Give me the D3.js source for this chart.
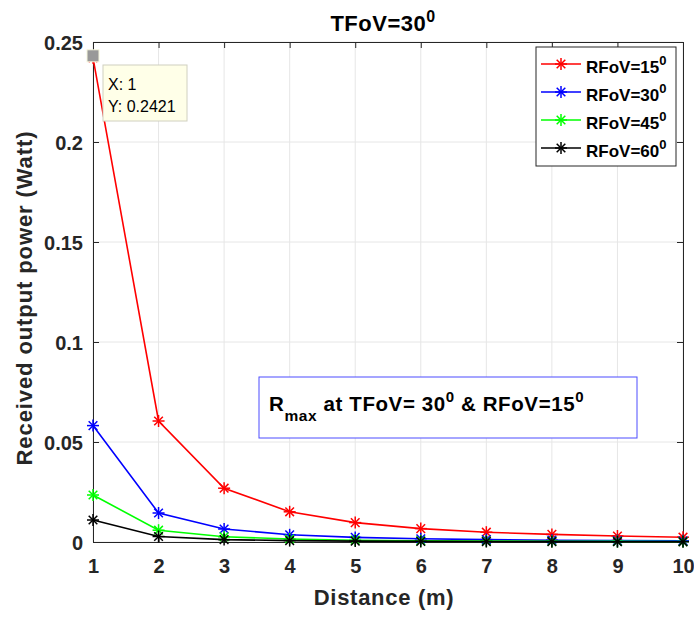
<!DOCTYPE html>
<html><head><meta charset="utf-8">
<script src="https://cdn.jsdelivr.net/npm/d3@7"></script>
<style>body{margin:0;background:#fff}svg{display:block;font-family:"Liberation Sans",Arial,sans-serif}</style>
</head><body>
<script>
const distances = [1,2,3,4,5,6,7,8,9,10];
const rfov15 = [0.2421,0.0605,0.0269,0.0151,0.0097,0.0067,0.0049,0.0038,0.0030,0.0024];
const rfov30 = [0.0582,0.0145,0.0065,0.0036,0.0023,0.0016,0.0012,0.0009,0.0007,0.0006];
const rfov45 = [0.0235,0.0059,0.0026,0.0015,0.0009,0.00065,0.0005,0.00037,0.0003,0.00023];
const rfov60 = [0.0110,0.00275,0.0012,0.0007,0.00044,0.0003,0.00022,0.00017,0.00014,0.00011];
const seriesNames = ["RFoV=15","RFoV=30","RFoV=45","RFoV=60"];
const seriesColors = ["#ff0000","#0000ff","#00ff00","#000000"];
const xTicks = [1,2,3,4,5,6,7,8,9,10];
const yTicks = [0,0.05,0.1,0.15,0.2,0.25];
const yTickLabels = ["0","0.05","0.1","0.15","0.2","0.25"];

const W=694,H=617;
const m={l:93,r:11,t:42,b:75};
const svg=d3.select("body").append("svg").attr("width",W).attr("height",H);
const x=d3.scaleLinear().domain([1,10]).range([m.l,W-m.r]);
const y=d3.scaleLinear().domain([0,0.25]).range([H-m.b,m.t]);
const x0=x.range()[0],x1=x.range()[1],y0=y.range()[0],y1=y.range()[1];

// grid
const g=svg.append("g");
g.selectAll(".gx").data(xTicks).enter().append("line").attr("x1",d=>x(d)).attr("x2",d=>x(d)).attr("y1",y0).attr("y2",y1).attr("stroke","#e6e6e6").attr("stroke-width",1);
g.selectAll(".gy").data(yTicks).enter().append("line").attr("y1",d=>y(d)).attr("y2",d=>y(d)).attr("x1",x0).attr("x2",x1).attr("stroke","#e6e6e6").attr("stroke-width",1);

// axes
const xAxis=d3.axisBottom(x).tickValues(xTicks).tickSize(-6).tickPadding(17).tickFormat(d3.format("d"));
const yAxis=d3.axisLeft(y).tickValues(yTicks).tickSize(-6).tickPadding(10).tickFormat((d,i)=>yTickLabels[i]);
const xa=svg.append("g").attr("transform",`translate(0,${y0})`).call(xAxis);
const ya=svg.append("g").attr("transform",`translate(${x0},0)`).call(yAxis);
const xt=svg.append("g").attr("transform",`translate(0,${y1})`).call(d3.axisTop(x).tickValues(xTicks).tickSize(-6).tickFormat(""));
const yr=svg.append("g").attr("transform",`translate(${x1},0)`).call(d3.axisRight(y).tickValues(yTicks).tickSize(-6).tickFormat(""));
[xa,ya,xt,yr].forEach(a=>{a.select(".domain").attr("stroke","#262626").attr("stroke-width",1);a.selectAll(".tick line").attr("stroke","#262626");a.selectAll("text").attr("fill","#262626").style("font-size","20px").style("font-weight","bold").style("font-family","'Liberation Sans',Arial,sans-serif");});
ya.selectAll("text").attr("dy","0.35em");

// lines
const allSeries=[rfov15,rfov30,rfov45,rfov60];
const line=d3.line().x((d,i)=>x(distances[i])).y(d=>y(d));
function star(sel,cx,cy,c,r){
  const p=sel.append("g").attr("transform",`translate(${cx},${cy})`).attr("stroke",c).attr("stroke-width",1.5);
  p.append("line").attr("x1",-r).attr("x2",r).attr("y1",0).attr("y2",0);
  p.append("line").attr("y1",-r).attr("y2",r).attr("x1",0).attr("x2",0);
  const q=r*0.72;
  p.append("line").attr("x1",-q).attr("y1",-q).attr("x2",q).attr("y2",q);
  p.append("line").attr("x1",-q).attr("y1",q).attr("x2",q).attr("y2",-q);
}
allSeries.forEach((s,k)=>{
  svg.append("path").datum(s).attr("d",line).attr("fill","none").attr("stroke",seriesColors[k]).attr("stroke-width",1.6);
  s.forEach((v,i)=>star(svg,x(distances[i]),y(v),seriesColors[k],6));
});

// title
const tt=svg.append("text").attr("x",383).attr("y",31).attr("text-anchor","middle").style("font-size","22px").style("font-weight","bold").style("letter-spacing","0.5px").attr("fill","#000");
tt.append("tspan").text("TFoV=30");
tt.append("tspan").attr("dy",-9).style("font-size","16px").text("0");

// axis labels
svg.append("text").attr("x",384).attr("y",605).attr("text-anchor","middle").style("font-size","22px").style("font-weight","bold").style("letter-spacing","0.7px").attr("fill","#262626").text("Distance (m)");
svg.append("text").attr("transform",`translate(32,298) rotate(-90)`).attr("text-anchor","middle").style("font-size","22px").style("font-weight","bold").style("letter-spacing","0.9px").attr("fill","#262626").text("Received output power (Watt)");

// legend
const lg=svg.append("g");
lg.append("rect").attr("x",536).attr("y",47).attr("width",140).attr("height",119).attr("fill","#fff").attr("stroke","#262626").attr("stroke-width",1);
seriesNames.forEach((n,k)=>{
  const ly=64+k*28;
  lg.append("line").attr("x1",541).attr("x2",581).attr("y1",ly).attr("y2",ly).attr("stroke",seriesColors[k]).attr("stroke-width",1.6);
  star(lg,561,ly,seriesColors[k],6);
  const t=lg.append("text").attr("x",586).attr("y",ly+9).style("font-size","17px").style("font-weight","bold").attr("fill","#000");
  t.append("tspan").text(n);
  t.append("tspan").attr("dy",-8).style("font-size","13px").text("0");
});

// annotation
svg.append("rect").attr("x",259).attr("y",377).attr("width",378).attr("height",61).attr("fill","#fff").attr("stroke","#4d4dff").attr("stroke-width",1);
const an=svg.append("text").attr("x",269).attr("y",411).style("font-size","20.5px").style("font-weight","bold").style("letter-spacing","0.6px").attr("fill","#000");
an.append("tspan").text("R");
an.append("tspan").attr("dy",10).style("font-size","15.5px").text("max");
an.append("tspan").attr("dy",-10).text(" at TFoV= 30");
an.append("tspan").attr("dy",-9).style("font-size","15px").text("0");
an.append("tspan").attr("dy",9).text(" & RFoV=15");
an.append("tspan").attr("dy",-9).style("font-size","15px").text("0");

// datatip
const dtx=x(distances[0]),dty=y(rfov15[0]);
svg.append("rect").attr("x",dtx-6).attr("y",dty-8).attr("width",12).attr("height",12).attr("fill","#999").attr("stroke","#f5f5dc").attr("stroke-width",1);
svg.append("rect").attr("x",103).attr("y",65).attr("width",84).attr("height",56).attr("fill","#ffffe8").attr("stroke","#d0d0c0").attr("stroke-width",1);
svg.append("text").attr("x",108).attr("y",90).style("font-size","16px").attr("fill","#000").text("X: 1");
svg.append("text").attr("x",108).attr("y",112).style("font-size","16px").attr("fill","#000").text("Y: 0.2421");
</script>
</body></html>
